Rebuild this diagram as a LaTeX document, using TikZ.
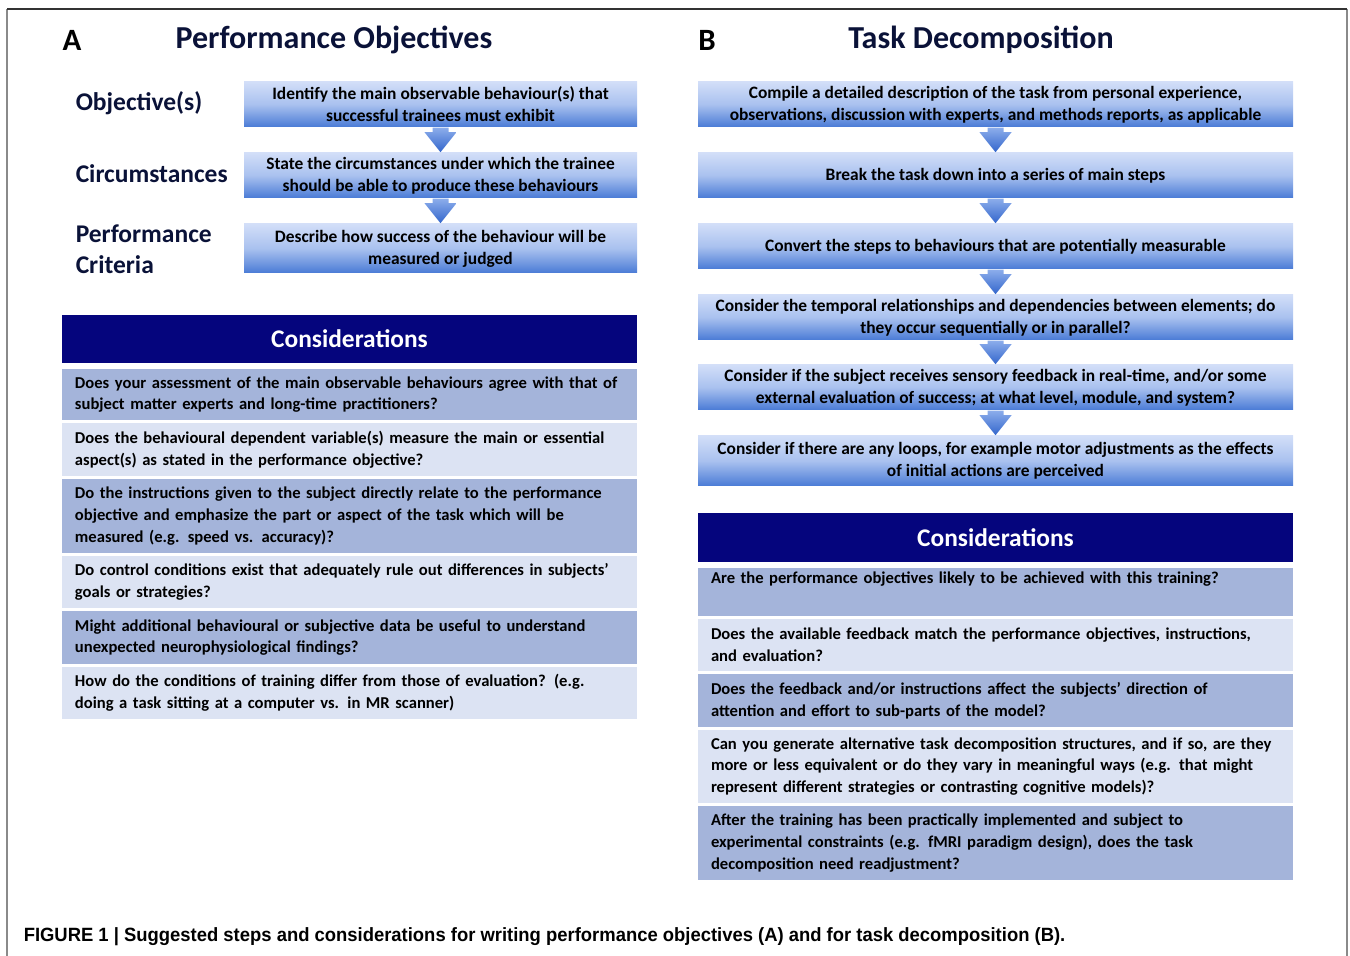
\documentclass[tikz,border=0pt]{standalone}
\usepackage{fontspec}
\setmainfont{Carlito}
\newfontfamily\capfont[FakeStretch=0.96]{Liberation Sans}
\usetikzlibrary{calc}

\definecolor{titlenavy}{HTML}{0A1238}
\definecolor{headnavy}{HTML}{05057D}
\definecolor{rowdarkfill}{HTML}{A4B4DA}
\definecolor{rowlightfill}{HTML}{DCE3F3}
\definecolor{boxtop}{HTML}{D2DEF8}
\definecolor{boxmid}{HTML}{A9C1EF}
\definecolor{boxbot}{HTML}{4A7BD6}
\definecolor{arrowtop}{HTML}{8CADEB}
\definecolor{arrowbot}{HTML}{3366CC}
\definecolor{framegray}{HTML}{8A8A8A}

\tikzset{
  every picture/.style={line width=0.75pt},
  paneltag/.style={font=\fontsize{15.5}{18}\selectfont\bfseries, inner sep=0pt},
  paneltitle/.style={font=\fontsize{16}{18}\selectfont\bfseries, text=titlenavy, inner sep=0pt},
  sidelabel/.style={font=\fontsize{12.75}{15.5}\selectfont\bfseries, text=titlenavy, align=left, anchor=west, inner sep=0pt},
  stepbox/.style={top color=boxtop, bottom color=boxbot, middle color=boxmid, align=center,
    font=\fontsize{8.7}{11}\selectfont\bfseries, inner sep=0pt},
  conshead/.style={fill=headnavy, text=white, font=\fontsize{12.7}{14}\selectfont\bfseries, inner sep=0pt},
  rowdark/.style={fill=rowdarkfill, align=left, font=\fontsize{8.3}{10.9}\selectfont\bfseries,
    inner xsep=6.5pt, inner ysep=0pt},
  rowlight/.style={rowdark, fill=rowlightfill},
}

\begin{document}
\begin{tikzpicture}[x=0.5pt,y=-0.5pt]
    \useasboundingbox (0,0) rectangle (1350,956);

    % outer frame
    \draw[framegray] (7,960) -- (7,9);
    \draw[framegray] (1347,9) -- (1347,960);
    \draw[black!80] (7,9) -- (1347,9);

    % panel A: performance objectives
    \node[paneltag] (tagA) at (72,40) {A};
    \node[paneltitle] (titleA) at (334,40) {Performance Objectives};

    \node[sidelabel] (lobj) at (75,103) {Objective(s)};
    \node[sidelabel] (lcirc) at (75,174) {Circumstances};
    \node[sidelabel] (lcrit) at (75,249.5) {Performance\\Criteria};

    \node[stepbox, minimum width=196.5pt, minimum height=22.5pt] (o1) at (440.5,104.5)
        {Identify the main observable behaviour(s) that\\successful trainees must exhibit};
    \node[stepbox, minimum width=196.5pt, minimum height=22.5pt] (o2) at (440.5,175.5)
        {State the circumstances under which the trainee\\should be able to produce these behaviours};
    \node[stepbox, minimum width=196.5pt, minimum height=24.5pt] (o3) at (440.5,248.5)
        {Describe how success of the behaviour will be\\measured or judged};

    % considerations A
    \node[conshead, minimum width=287.5pt, minimum height=24pt] (hA) at (349.5,339) {Considerations};
    \node[rowdark, text width=274.5pt, minimum height=25.5pt] (a1) at (349.5,394.5)
        {Does your assessment of the main observable behaviours agree with that of\\subject matter experts and long-time practitioners?};
    \node[rowlight, text width=274.5pt, minimum height=26.5pt] (a2) at (349.5,449.5)
        {Does the behavioural dependent variable(s) measure the main or essential\\aspect(s) as stated in the performance objective?};
    \node[rowdark, text width=274.5pt, minimum height=37pt] (a3) at (349.5,516)
        {Do the instructions given to the subject directly relate to the performance\\objective and emphasize the part or aspect of the task which will be\\measured (e.g. speed vs. accuracy)?};
    \node[rowlight, text width=274.5pt, minimum height=26pt] (a4) at (349.5,582)
        {Do control conditions exist that adequately rule out differences in subjects’\\goals or strategies?};
    \node[rowdark, text width=274.5pt, minimum height=26.5pt] (a5) at (349.5,637.5)
        {Might additional behavioural or subjective data be useful to understand\\unexpected neurophysiological findings?};
    \node[rowlight, text width=274.5pt, minimum height=26pt] (a6) at (349.5,693)
        {How do the conditions of training differ from those of evaluation? (e.g.\\doing a task sitting at a computer vs. in MR scanner)};

    % panel B: task decomposition
    \node[paneltag] (tagB) at (707,40) {B};
    \node[paneltitle] (titleB) at (981,40) {Task Decomposition};

    \node[stepbox, minimum width=297.5pt, minimum height=22.5pt] (t1) at (995.5,104.5)
        {Compile a detailed description of the task from personal experience,\\observations, discussion with experts, and methods reports, as applicable};
    \node[stepbox, minimum width=297.5pt, minimum height=22.5pt] (t2) at (995.5,175.5)
        {Break the task down into a series of main steps};
    \node[stepbox, minimum width=297.5pt, minimum height=22.5pt] (t3) at (995.5,246.5)
        {Convert the steps to behaviours that are potentially measurable};
    \node[stepbox, minimum width=297.5pt, minimum height=22.5pt] (t4) at (995.5,317.5)
        {Consider the temporal relationships and dependencies between elements; do\\they occur sequentially or in parallel?};
    \node[stepbox, minimum width=297.5pt, minimum height=22.5pt] (t5) at (995.5,387.5)
        {Consider if the subject receives sensory feedback in real-time, and/or some\\external evaluation of success; at what level, module, and system?};
    \node[stepbox, minimum width=297.5pt, minimum height=25pt] (t6) at (995.5,461)
        {Consider if there are any loops, for example motor adjustments as the effects\\of initial actions are perceived};

    % considerations B
    \node[conshead, minimum width=297.5pt, minimum height=24.5pt] (hB) at (995.5,537.5) {Considerations};
    \node[rowdark, text width=284.5pt, minimum height=24pt] (b1) at (995.5,592)
        {Are the performance objectives likely to be achieved with this training?\\\strut};
    \node[rowlight, text width=284.5pt, minimum height=26pt] (b2) at (995.5,645)
        {Does the available feedback match the performance objectives, instructions,\\and evaluation?};
    \node[rowdark, text width=284.5pt, minimum height=26.5pt] (b3) at (995.5,700.5)
        {Does the feedback and/or instructions affect the subjects’ direction of\\attention and effort to sub-parts of the model?};
    \node[rowlight, text width=284.5pt, minimum height=36.5pt] (b4) at (995.5,766.5)
        {Can you generate alternative task decomposition structures, and if so, are they\\more or less equivalent or do they vary in meaningful ways (e.g. that might\\represent different strategies or contrasting cognitive models)?};
    \node[rowdark, text width=284.5pt, minimum height=37pt] (b5) at (995.5,843)
        {After the training has been practically implemented and subject to\\experimental constraints (e.g. fMRI paradigm design), does the task\\decomposition need readjustment?};

    % block arrows between the steps
    \foreach \a/\b in {o1/o2,o2/o3,t1/t2,t2/t3,t3/t4,t4/t5,t5/t6}
        \shade[top color=arrowtop, bottom color=arrowbot]
            ($(\a.south)+(-8,0)$) -- ($(\b.north)+(-8,-20)$) -- ($(\b.north)+(-16,-20)$)
            -- (\b.north) -- ($(\b.north)+(16,-20)$) -- ($(\b.north)+(8,-20)$)
            -- ($(\a.south)+(8,0)$) -- cycle;

    % caption
    \node[anchor=west, inner sep=0pt, font=\capfont\fontsize{9.6}{11}\selectfont] (caption) at (23,937)
        {\textbf{FIGURE 1 | Suggested steps and considerations for writing performance objectives (A) and for task decomposition (B).}};
\end{tikzpicture}
\end{document}
